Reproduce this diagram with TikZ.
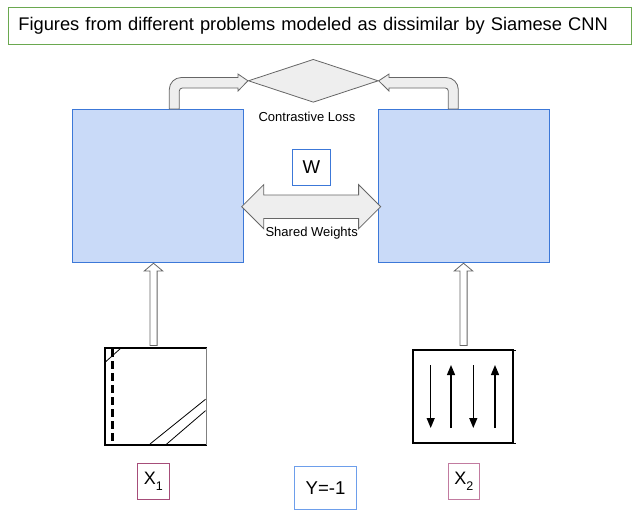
\documentclass[tikz,border=0pt]{standalone}
\usepackage{fontspec}
\setmainfont{Liberation Sans}
\usetikzlibrary{shapes.geometric,shapes.arrows,arrows.meta}
\definecolor{boxblue}{HTML}{C9DAF8}
\definecolor{edgeblue}{HTML}{3C78D8}
\definecolor{lightblue}{HTML}{6D9EEB}
\definecolor{titlegreen}{HTML}{6AA84F}
\definecolor{plum}{HTML}{A64D79}
\definecolor{rosepink}{HTML}{C27BA0}
\definecolor{arrowgray}{HTML}{666666}
\definecolor{arrowfill}{HTML}{EEEEEE}
\newcommand{\lowidx}[1]{\raisebox{-0.3em}{\fontsize{12.5}{14}\selectfont #1}}
\begin{document}
\begin{tikzpicture}[x=1pt,y=-1pt,
    network/.style ={rectangle, draw=edgeblue, fill=boxblue, line width=0.8pt, minimum width=171.4pt, minimum height=153pt},
    loss/.style ={diamond, draw=arrowgray, fill=arrowfill, line width=0.8pt, inner sep=0pt, minimum width=130pt, minimum height=43pt},
    hollow/.style ={draw=arrowgray, fill=arrowfill, line width=0.8pt},
    uparrow/.style ={single arrow, hollow, fill=white, rotate=90, anchor=tip, inner xsep=0pt, inner ysep=3.2pt, minimum height=82.3pt, minimum width=17.7pt, single arrow head extend=5.65pt, single arrow tip angle=100},
    caption/.style ={font=\fontsize{13}{15}\selectfont, inner sep=0pt},
    tag/.style ={rectangle, draw, line width=0.8pt, font=\fontsize{18.6}{22}\selectfont, inner sep=0pt}]
   \useasboundingbox (0,0) rectangle (635,517);

   \node[draw=titlegreen, line width=0.9pt, minimum width=622.7pt, minimum height=36.7pt, text width=602.7pt, inner xsep=10pt, align=left, font=\fontsize{18.3}{22}\selectfont] (T) at (319.7,25.7) {Figures from different problems modeled as dissimilar by Siamese CNN};

   \node[network] (L) at (157.9,185.7) {};
   \node[network] (R) at (464,185.7) {};
   \node[loss] (D) at (313.3,80.8) {};
   \node[caption] (CL) at (307,117.3) {Contrastive Loss};
   \node[tag, draw=edgeblue, minimum width=38.4pt, minimum height=36.7pt] (W) at (311.5,167.3) {W};
   \node[double arrow, hollow, inner xsep=0pt, inner ysep=11.3pt, minimum height=139pt, minimum width=43.3pt, double arrow head extend=10.4pt] (S) at (311.2,206.7) {};
   \node[caption] (SW) at (311.7,233.3) {Shared Weights};

   % bent arrows into the loss
   \draw[hollow] (169.3,109) -- (169.3,89.5) arc[start angle=180, end angle=270, radius=12] -- (238,77.5) -- (238,74) -- (D.west) -- (238,91) -- (238,88) -- (182.3,88) arc[start angle=270, end angle=180, radius=3] -- (179.3,109) -- cycle;
   \draw[hollow] (458.3,109) -- (458.3,89.5) arc[start angle=0, end angle=-90, radius=12] -- (389,77.5) -- (389,74) -- (D.east) -- (389,91) -- (389,88) -- (445.3,88) arc[start angle=270, end angle=360, radius=3] -- (448.3,109) -- cycle;

   \node[minimum width=101.3pt, minimum height=97pt, inner sep=0pt] (P1) at (155.7,396.5) {};
   \node[minimum width=99.4pt, minimum height=93pt, inner sep=0pt] (P2) at (463,396.5) {};
   \node[uparrow] (U1) at (153.5,262.7) {};
   \node[uparrow] (U2) at (463.5,262.7) {};

   % first figure
   \draw[line width=1.8pt] (P1.north east) -- (P1.north west) -- (P1.south west) -- (P1.south east);
   \draw[line width=0.6pt, gray] (P1.north east) -- (P1.south east);
   \draw[line width=2.5pt, dash pattern=on 8pt off 4pt] (112.7,349) -- (112.7,441);
   \draw[line width=0.8pt] (105.7,361.7) -- (120.7,348.3);
   \draw[line width=0.8pt] (150,444) -- (205.5,399.3);
   \draw[line width=0.8pt] (166.7,444) -- (205.5,410.7);

   % second figure
   \draw[line width=1.8pt] (P2.south west) rectangle (P2.north east);
   \draw[line width=0.6pt] (P2.north east) -- ++(3,0) (P2.south east) -- ++(3,0);
   \foreach \x in {430.7,473.3}
     \draw[line width=1.2pt, -{Triangle[width=8pt,length=10pt]}] (\x,365) -- (\x,428);
   \foreach \x in {451,495}
     \draw[line width=1.2pt, -{Triangle[width=8pt,length=10pt]}] (\x,428) -- (\x,365);

   \node[tag, draw=plum, minimum width=32pt, minimum height=36pt, font=\fontsize{18}{20}\selectfont] (X1) at (153.3,481.3) {X\lowidx{1}};
   \node[tag, draw=lightblue, minimum width=62.3pt, minimum height=42.3pt] (Y) at (325.5,487.8) {Y=-1};
   \node[tag, draw=rosepink, minimum width=31pt, minimum height=36pt, font=\fontsize{18}{20}\selectfont] (X2) at (463.8,481.3) {X\lowidx{2}};
 \end{tikzpicture}
\end{document}
